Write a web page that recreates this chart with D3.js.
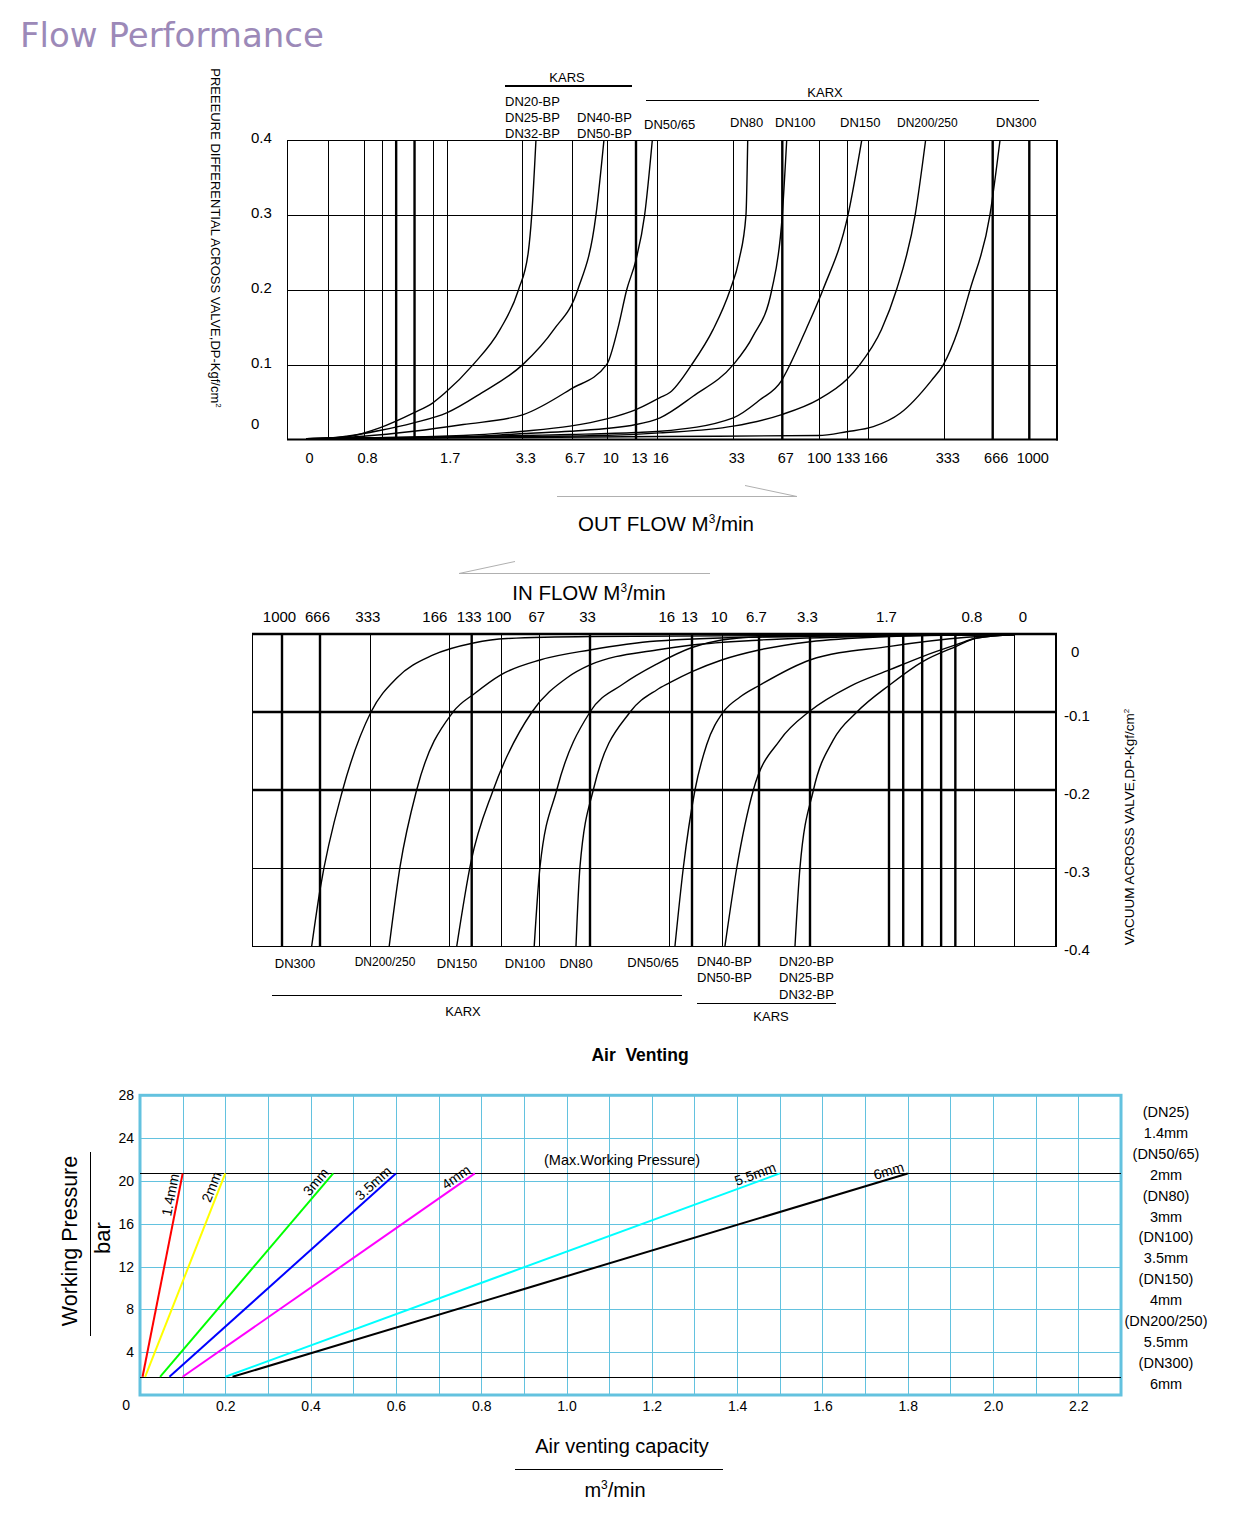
<!DOCTYPE html>
<html>
<head>
<meta charset="utf-8">
<title>Flow Performance</title>
<script src="https://cdn.jsdelivr.net/npm/d3@7"></script>
<style>
  body { margin: 0; background: #fff; }
  text { font-family: "Liberation Sans", Arial, sans-serif; fill: #000; }
</style>
</head>
<body>
<script>
// ---------- OUT FLOW chart data (flow m3/min, dp kgf/cm2) ----------
var outFlowTicks = [0, 0.8, 1.7, 3.3, 6.7, 10, 13, 16, 33, 67, 100, 133, 166, 333, 666, 1000];
var outFlowGrid = [0.3, 0.8, 1.0, 1.15, 1.35, 1.55, 1.7, 3.3, 6.7, 10, 13, 16, 33, 67, 100, 133, 166, 333, 666, 1000];
var outFlowHeavy = [1.15, 1.35, 13, 67, 666, 1000];
var outDpTicks = [0, 0.1, 0.2, 0.3, 0.4];

var outKars20 = [[0, 0.001], [0.33, 0.002], [0.61, 0.0044], [0.97, 0.0156], [1.34, 0.0356], [1.55, 0.049], [1.68, 0.062], [2.26, 0.1], [2.83, 0.147], [3.22, 0.2], [3.71, 0.25], [3.95, 0.3], [4.24, 0.4]];
var outKars40 = [[0, 0.001], [0.33, 0.002], [0.56, 0.0044], [0.97, 0.012], [1.34, 0.0223], [1.7, 0.0356], [2.44, 0.0623], [3.33, 0.1], [5.48, 0.147], [7.26, 0.2], [8.95, 0.3], [9.69, 0.4]];
var outDN50 = [[0, 0.001], [0.79, 0.0044], [1.34, 0.011], [2.05, 0.02], [3.37, 0.0333], [6.58, 0.0667], [9.94, 0.1], [11.12, 0.149], [12.03, 0.2], [13, 0.24], [14.22, 0.3], [15.3, 0.4]];
var outDN80 = [[0, 0.001], [2.05, 0.0053], [3.35, 0.011], [6.58, 0.0178], [9.94, 0.0276], [13, 0.04], [16.6, 0.056], [18.8, 0.0627], [23.7, 0.1], [28.5, 0.147], [32.3, 0.2], [37, 0.24], [41.8, 0.3], [43, 0.4]];
var outDN100 = [[0, 0.001], [2.05, 0.0033], [3.35, 0.008], [6.58, 0.011], [13, 0.02], [16.6, 0.029], [24, 0.0578], [33, 0.1], [46.7, 0.138], [59.7, 0.2], [67, 0.3], [71, 0.4]];
var outDN150 = [[0, 0.001], [3.35, 0.0053], [6.58, 0.0067], [13, 0.0093], [16.6, 0.011], [33, 0.029], [51.5, 0.053], [66.6, 0.079], [74, 0.1], [88.5, 0.147], [105, 0.2], [135, 0.3], [156, 0.4]];
var outDN200 = [[0, 0.001], [3.35, 0.004], [9.3, 0.0053], [16.6, 0.0089], [33, 0.0178], [66.6, 0.0333], [99.6, 0.0533], [133, 0.08], [153, 0.1], [195, 0.147], [228, 0.2], [269, 0.3], [292, 0.4]];
var outDN300 = [[0, 0.001], [3.35, 0.0027], [16.6, 0.004], [99.6, 0.0053], [133, 0.0104], [177, 0.0171], [236, 0.035], [305, 0.079], [331, 0.1], [429, 0.147], [510, 0.2], [647, 0.3], [733, 0.4]];

// ---------- IN FLOW chart data ----------
var inFlowTicks = [1000, 666, 333, 166, 133, 100, 67, 33, 16, 13, 10, 6.7, 3.3, 1.7, 0.8, 0];
var inFlowGrid = [1000, 666, 333, 166, 133, 100, 67, 33, 16, 13, 10, 6.7, 3.3, 1.7, 1.55, 1.35, 1.15, 1.0, 0.8, 0];
var inFlowHeavy = [1000, 666, 133, 33, 13, 6.7, 3.3, 1.7, 1.55, 1.35, 1.15, 1.0];
var inDpTicks = [0, -0.1, -0.2, -0.3, -0.4];
var inDpHeavy = [-0.1, -0.2];

var inDN300 = [[739, -0.4], [666, -0.328], [516, -0.2], [331.5, -0.1], [277, -0.0564], [200, -0.0269], [131, -0.0115], [95, -0.0058], [33, -0.0032], [4, -0.0019], [0, -0.0006]];
var inDN200 = [[293, -0.4], [270, -0.298], [235, -0.2], [160.5, -0.1], [129, -0.0756], [101, -0.0526], [66.5, -0.0333], [33, -0.0205], [18.7, -0.009], [6.6, -0.0038], [0, -0.0006]];
var inDN150 = [[155, -0.4], [134.5, -0.294], [109, -0.2], [73.4, -0.1], [48.6, -0.0564], [33, -0.0397], [18.7, -0.0205], [13, -0.0141], [6.6, -0.0077], [1.69, -0.0026], [0, -0.0006]];
var inDN100 = [[71.4, -0.4], [66.5, -0.298], [55.3, -0.2], [33, -0.1], [25.9, -0.0641], [18.7, -0.0385], [13, -0.0173], [10, -0.0077], [6.7, -0.0038], [1.69, -0.0019], [0, -0.0006]];
var inDN80 = [[42.4, -0.4], [39.7, -0.298], [32.3, -0.2], [24.4, -0.1], [18.7, -0.0718], [16, -0.0628], [13, -0.0483], [10, -0.0333], [6.7, -0.0205], [3.3, -0.0099], [1.7, -0.0032], [0.98, -0.001], [0, -0.0006]];
var inDN50 = [[15.25, -0.4], [14.15, -0.3], [12.7, -0.2], [11.52, -0.142], [9.86, -0.1], [8.38, -0.0808], [6.63, -0.0654], [3.3, -0.0333], [1.69, -0.0158], [0.88, -0.0042], [0, -0.0006]];
var inKars40 = [[9.71, -0.4], [8.67, -0.3], [7.2, -0.2], [5.3, -0.136], [3.3, -0.0987], [2.49, -0.067], [1.69, -0.0458], [1.34, -0.0286], [0.99, -0.0137], [0.75, -0.0051], [0, -0.0006]];
var inKars20 = [[4.3, -0.4], [3.97, -0.3], [3.23, -0.2], [2.83, -0.136], [2.35, -0.1], [1.69, -0.065], [1.34, -0.035], [0.99, -0.0158], [0.75, -0.0051], [0, -0.0006]];

// ---------- Air venting data ----------
var ventOrifices = ["1.4mm", "2mm", "3mm", "3.5mm", "4mm", "5.5mm", "6mm"];
var ventStartFlow = [0.006, 0.012, 0.047, 0.069, 0.1, 0.2, 0.217];
var ventEndFlow = [0.1, 0.2, 0.453, 0.6, 0.785, 1.5, 1.8];
var ventMinPressure = 1.7;
var ventMaxPressure = 20.7;
var ventFlowTicks = [0.2, 0.4, 0.6, 0.8, 1.0, 1.2, 1.4, 1.6, 1.8, 2.0, 2.2];
var ventFlowGrid = [0.1, 0.2, 0.3, 0.4, 0.5, 0.6, 0.7, 0.8, 0.9, 1.0, 1.1, 1.2, 1.3, 1.4, 1.5, 1.6, 1.7, 1.8, 1.9, 2.0, 2.1, 2.2];
var ventPressureTicks = [0, 4, 8, 12, 16, 20, 24, 28];
var ventLegend = ["(DN25)", "1.4mm", "(DN50/65)", "2mm", "(DN80)", "3mm", "(DN100)", "3.5mm", "(DN150)", "4mm", "(DN200/250)", "5.5mm", "(DN300)", "6mm"];

// ---------- layout ----------
var outFlowTickX = [306, 364, 446.7, 522.3, 571.7, 607.3, 636, 657.3, 733.3, 782.3, 818.7, 846.7, 868.3, 944.3, 992.7, 1029.3];
var inFlowTickX = [282, 320, 370.3, 449.3, 471.7, 501.3, 539.3, 590, 669.3, 692, 721.7, 759, 810, 889, 974.3, 1014.3];
var outLabelNudge = {166: 4, 133: -2, 100: -3};
var inLabelNudge = {166: -12, 0: 11};
var ventColors = ["#ff0000", "#ffff00", "#00ff00", "#0000ff", "#ff00ff", "#00ffff", "#000000"];
var gridBlue = "#63c2df";

var svg = d3.select("body").append("svg")
    .attr("width", 1239)
    .attr("height", 1520)
    .style("display", "block");

function px(v) { return Math.round(v) + 0.5; }

function seg(g, x1, y1, x2, y2, w, color) {
    return g.append("line")
        .attr("x1", x1).attr("y1", y1).attr("x2", x2).attr("y2", y2)
        .attr("stroke", color || "#000")
        .attr("stroke-width", w || 1);
}

function label(g, x, y, str, size, anchor) {
    return g.append("text")
        .attr("x", x).attr("y", y).attr("dy", "0.35em")
        .attr("font-size", size)
        .attr("text-anchor", anchor || "middle")
        .text(str);
}

function caption(x, y, before, sup, after, size) {
    var t = svg.append("text").attr("x", x).attr("y", y).attr("text-anchor", "middle").attr("font-size", size);
    t.append("tspan").text(before);
    t.append("tspan").attr("font-size", size * 0.58).attr("dy", -size * 0.4).text(sup);
    t.append("tspan").attr("dy", size * 0.4).text(after);
    return t;
}

svg.append("text")
    .attr("x", 20).attr("y", 47)
    .style("font-family", "'DejaVu Sans', Verdana, sans-serif")
    .attr("font-size", 34)
    .style("fill", "#9c89b8")
    .text("Flow Performance");

// ================= OUT FLOW chart =================
var oF = {left: 287, right: 1057, top: 140, bottom: 439.5};
var outX = d3.scaleLinear().domain(outFlowTicks).range(outFlowTickX);
var outY = d3.scaleLinear().domain([0, 0.4]).range([oF.bottom, oF.top]);
var outG = svg.append("g");

outG.selectAll("line.vg").data(outFlowGrid).enter().append("line")
    .attr("class", "vg")
    .attr("x1", function(d) { return outFlowHeavy.indexOf(d) >= 0 ? outX(d) : px(outX(d)); })
    .attr("x2", function(d) { return outFlowHeavy.indexOf(d) >= 0 ? outX(d) : px(outX(d)); })
    .attr("y1", oF.top).attr("y2", oF.bottom)
    .attr("stroke", "#000")
    .attr("stroke-width", function(d) { return outFlowHeavy.indexOf(d) >= 0 ? 2.4 : 1; });

outG.selectAll("line.hg").data([0.1, 0.2, 0.3]).enter().append("line")
    .attr("class", "hg")
    .attr("x1", oF.left).attr("x2", oF.right)
    .attr("y1", function(d) { return px(outY(d)); })
    .attr("y2", function(d) { return px(outY(d)); })
    .attr("stroke", "#000").attr("stroke-width", 1);

seg(outG, oF.left, oF.top + 0.5, oF.right, oF.top + 0.5, 1);
seg(outG, oF.left + 0.5, oF.top, oF.left + 0.5, oF.bottom, 1);
seg(outG, oF.right, oF.top, oF.right, oF.bottom + 1, 2);
seg(outG, oF.left, oF.bottom, oF.right + 1, oF.bottom, 2);

var outLine = d3.line()
    .x(function(d) { return outX(d[0]); })
    .y(function(d) { return outY(d[1]); })
    .curve(d3.curveMonotoneX);

outG.selectAll("path.curve")
    .data([outKars20, outKars40, outDN50, outDN80, outDN100, outDN150, outDN200, outDN300])
    .enter().append("path")
    .attr("class", "curve")
    .attr("d", outLine)
    .attr("fill", "none")
    .attr("stroke", "#000")
    .attr("stroke-width", 1.4);

outG.append("g")
    .attr("transform", "translate(0," + oF.bottom + ")")
    .call(d3.axisBottom(outX).tickValues(outFlowTicks).tickSize(0).tickPadding(13.5)
        .tickFormat(function(d) { return String(d); }))
    .attr("font-size", 14.5)
    .attr("font-family", null)
    .call(function(g) { g.select(".domain").remove(); })
    .selectAll("text").attr("dx", function(d) { return 3 + (outLabelNudge[d] || 0); });

outDpTicks.forEach(function(v) {
    var y = Math.min(Math.max(outY(v) - 2, oF.top - 5), oF.bottom - 16);
    label(outG, 251, y, String(v), 15, "start");
});

var outTitle = outG.append("text")
    .attr("transform", "translate(211,238) rotate(90)")
    .attr("text-anchor", "middle")
    .attr("font-size", 13);
outTitle.append("tspan").text("PREEEURE DIFFERENTIAL ACROSS VALVE,DP-Kgf/cm");
outTitle.append("tspan").attr("font-size", 8).attr("dy", -5).text("2");

label(outG, 567, 77, "KARS", 13);
seg(outG, 505, 86, 632, 86, 2);
label(outG, 825, 92, "KARX", 13);
seg(outG, 646, 100.5, 1039, 100.5, 1);

var outNames = [
    {t: "DN20-BP", x: 505, y: 101, s: 13},
    {t: "DN25-BP", x: 505, y: 117, s: 13},
    {t: "DN32-BP", x: 505, y: 133, s: 13},
    {t: "DN40-BP", x: 577, y: 117, s: 13},
    {t: "DN50-BP", x: 577, y: 133, s: 13},
    {t: "DN50/65", x: 644, y: 124, s: 13},
    {t: "DN80", x: 730, y: 122, s: 13},
    {t: "DN100", x: 775, y: 122, s: 13},
    {t: "DN150", x: 840, y: 122, s: 13},
    {t: "DN200/250", x: 897, y: 123, s: 12},
    {t: "DN300", x: 996, y: 122, s: 13}
];
outNames.forEach(function(n) { label(outG, n.x, n.y, n.t, n.s, "start"); });

// OUT FLOW caption
seg(svg, 557, 496.5, 797, 496.5, 1, "#b0b0b0");
seg(svg, 745, 485.5, 797, 496.5, 1, "#b0b0b0");
caption(666, 531, "OUT FLOW M", "3", "/min", 20.5);

// ================= IN FLOW chart =================
var iF = {left: 252, right: 1056, top: 634, bottom: 946};
var inX = d3.scaleLinear().domain(inFlowTicks).range(inFlowTickX);
var inY = d3.scaleLinear().domain([0, -0.4]).range([iF.top, iF.bottom]);
var inG = svg.append("g");

seg(svg, 459, 573.5, 710, 573.5, 1, "#b0b0b0");
seg(svg, 459, 573.5, 515, 561.5, 1, "#b0b0b0");
caption(589, 600, "IN FLOW M", "3", "/min", 20.5);

inG.selectAll("line.vg").data(inFlowGrid).enter().append("line")
    .attr("class", "vg")
    .attr("x1", function(d) { return inFlowHeavy.indexOf(d) >= 0 ? inX(d) : px(inX(d)); })
    .attr("x2", function(d) { return inFlowHeavy.indexOf(d) >= 0 ? inX(d) : px(inX(d)); })
    .attr("y1", iF.top).attr("y2", iF.bottom)
    .attr("stroke", "#000")
    .attr("stroke-width", function(d) { return inFlowHeavy.indexOf(d) >= 0 ? 2.4 : 1; });

inG.selectAll("line.hg").data([-0.1, -0.2, -0.3]).enter().append("line")
    .attr("class", "hg")
    .attr("x1", iF.left).attr("x2", iF.right)
    .attr("y1", function(d) { return inDpHeavy.indexOf(d) >= 0 ? inY(d) : px(inY(d)); })
    .attr("y2", function(d) { return inDpHeavy.indexOf(d) >= 0 ? inY(d) : px(inY(d)); })
    .attr("stroke", "#000")
    .attr("stroke-width", function(d) { return inDpHeavy.indexOf(d) >= 0 ? 2.4 : 1; });

seg(inG, iF.left, iF.top, iF.right + 1, iF.top, 2.4);
seg(inG, iF.left + 0.5, iF.top, iF.left + 0.5, iF.bottom, 1);
seg(inG, iF.right, iF.top, iF.right, iF.bottom, 2);
seg(inG, iF.left, iF.bottom + 0.5, iF.right + 1, iF.bottom + 0.5, 1);

var inLine = d3.line()
    .x(function(d) { return inX(d[0]); })
    .y(function(d) { return inY(d[1]); })
    .curve(d3.curveMonotoneX);

inG.selectAll("path.curve")
    .data([inDN300, inDN200, inDN150, inDN100, inDN80, inDN50, inKars40, inKars20])
    .enter().append("path")
    .attr("class", "curve")
    .attr("d", function(d) { return inLine(d.slice().sort(function(a, b) { return b[0] - a[0]; })); })
    .attr("fill", "none")
    .attr("stroke", "#000")
    .attr("stroke-width", 1.4);

inG.append("g")
    .attr("transform", "translate(0," + iF.top + ")")
    .call(d3.axisTop(inX).tickValues(inFlowTicks).tickSize(0).tickPadding(12)
        .tickFormat(function(d) { return String(d); }))
    .attr("font-size", 15)
    .attr("font-family", null)
    .call(function(g) { g.select(".domain").remove(); })
    .selectAll("text").attr("dx", function(d) { return -3 + (inLabelNudge[d] || 0); });

inDpTicks.forEach(function(v) {
    var y = Math.min(Math.max(inY(v) + 4, iF.top + 18), iF.bottom + 6);
    label(inG, v === 0 ? 1071 : 1064, y, String(v), 15, "start");
});

var inTitle = inG.append("text")
    .attr("transform", "translate(1134,827) rotate(-90)")
    .attr("text-anchor", "middle")
    .attr("font-size", 13.5);
inTitle.append("tspan").text("VACUUM ACROSS VALVE,DP-Kgf/cm");
inTitle.append("tspan").attr("font-size", 8).attr("dy", -5).text("2");

var inNames = [
    {t: "DN300", x: 295, y: 963, s: 13, a: "middle"},
    {t: "DN200/250", x: 385, y: 962, s: 12, a: "middle"},
    {t: "DN150", x: 457, y: 963, s: 13, a: "middle"},
    {t: "DN100", x: 525, y: 963, s: 13, a: "middle"},
    {t: "DN80", x: 576, y: 963, s: 13, a: "middle"},
    {t: "DN50/65", x: 653, y: 962, s: 13, a: "middle"},
    {t: "DN40-BP", x: 697, y: 961, s: 13, a: "start"},
    {t: "DN50-BP", x: 697, y: 977.5, s: 13, a: "start"},
    {t: "DN20-BP", x: 779, y: 961, s: 13, a: "start"},
    {t: "DN25-BP", x: 779, y: 977.5, s: 13, a: "start"},
    {t: "DN32-BP", x: 779, y: 994, s: 13, a: "start"}
];
inNames.forEach(function(n) { label(inG, n.x, n.y, n.t, n.s, n.a); });
seg(inG, 272, 995.5, 682, 995.5, 1);
label(inG, 463, 1011, "KARX", 13);
seg(inG, 697, 1003.5, 836, 1003.5, 1);
label(inG, 771, 1016, "KARS", 13);

// ================= Air venting chart =================
label(svg, 640, 1055, "Air  Venting", 17.5).attr("font-weight", "bold").style("white-space", "pre");

var vF = {left: 140, right: 1121, top: 1095.3, bottom: 1395};
var ventX = d3.scaleLinear().domain([0, 2.3]).range([vF.left, vF.right]);
var ventY = d3.scaleLinear().domain([0, 28]).range([vF.bottom, vF.top]);
var vG = svg.append("g");

vG.selectAll("line.vx").data(ventFlowGrid).enter().append("line")
    .attr("x1", function(d) { return px(ventX(d)); })
    .attr("x2", function(d) { return px(ventX(d)); })
    .attr("y1", vF.top).attr("y2", vF.bottom)
    .attr("stroke", gridBlue).attr("stroke-width", 1);

vG.selectAll("line.vy").data(ventPressureTicks.slice(1, -1)).enter().append("line")
    .attr("x1", vF.left).attr("x2", vF.right)
    .attr("y1", function(d) { return px(ventY(d)); })
    .attr("y2", function(d) { return px(ventY(d)); })
    .attr("stroke", gridBlue).attr("stroke-width", 1);

vG.append("rect")
    .attr("x", vF.left).attr("y", vF.top)
    .attr("width", vF.right - vF.left).attr("height", vF.bottom - vF.top)
    .attr("fill", "none").attr("stroke", gridBlue).attr("stroke-width", 3);

[ventMinPressure, ventMaxPressure].forEach(function(p) {
    seg(vG, vF.left, px(ventY(p)), vF.right, px(ventY(p)), 1);
});
label(vG, 622, 1160, "(Max.Working Pressure)", 14.5);

ventOrifices.forEach(function(name, i) {
    vG.append("line")
        .attr("x1", ventX(ventStartFlow[i])).attr("y1", ventY(ventMinPressure))
        .attr("x2", ventX(ventEndFlow[i])).attr("y2", ventY(ventMaxPressure))
        .attr("stroke", ventColors[i]).attr("stroke-width", 2);
});

ventOrifices.forEach(function(name, i) {
    var x0 = ventX(ventStartFlow[i]), y0 = ventY(ventMinPressure);
    var x1 = ventX(ventEndFlow[i]), y1 = ventY(ventMaxPressure);
    var len = Math.sqrt((x1 - x0) * (x1 - x0) + (y1 - y0) * (y1 - y0));
    var ux = (x1 - x0) / len, uy = (y1 - y0) / len;
    var ang = Math.atan2(uy, ux) * 180 / Math.PI;
    var t = vG.append("text")
        .attr("text-anchor", "middle")
        .attr("font-size", 14)
        .attr("y", -3)
        .text(name);
    var L = t.node().getComputedTextLength();
    var cx = x1 - ux * (L / 2 + 2), cy = y1 - uy * (L / 2 + 2);
    t.attr("transform", "translate(" + cx + "," + cy + ") rotate(" + ang + ")");
});

vG.append("g")
    .attr("transform", "translate(0," + vF.bottom + ")")
    .call(d3.axisBottom(ventX).tickValues(ventFlowTicks).tickSize(0).tickPadding(6)
        .tickFormat(d3.format(".1f")))
    .attr("font-size", 14)
    .attr("font-family", null)
    .call(function(g) { g.select(".domain").remove(); });

vG.append("g")
    .attr("transform", "translate(" + vF.left + ",0)")
    .call(d3.axisLeft(ventY).tickValues(ventPressureTicks).tickSize(0).tickPadding(6))
    .attr("font-size", 14)
    .attr("font-family", null)
    .call(function(g) { g.select(".domain").remove(); })
    .selectAll("text")
    .filter(function(d) { return d === 0; })
    .attr("dx", -4).attr("dy", "1.05em");

ventLegend.forEach(function(s, i) {
    label(vG, 1166, 1112 + i * 20.9, s, 14.5);
});

vG.append("text")
    .attr("transform", "translate(69,1241) rotate(-90)")
    .attr("text-anchor", "middle").attr("dy", "0.35em")
    .attr("font-size", 21.5)
    .text("Working Pressure");
seg(vG, 90.5, 1152, 90.5, 1336, 1);
vG.append("text")
    .attr("transform", "translate(102,1238) rotate(-90)")
    .attr("text-anchor", "middle").attr("dy", "0.35em")
    .attr("font-size", 22)
    .text("bar");

label(vG, 622, 1446, "Air venting capacity", 20);
seg(vG, 515, 1469.5, 723, 1469.5, 1);
var unit = vG.append("text").attr("x", 615).attr("y", 1497).attr("text-anchor", "middle").attr("font-size", 20);
unit.append("tspan").text("m");
unit.append("tspan").attr("font-size", 12).attr("dy", -8).text("3");
unit.append("tspan").attr("dy", 8).text("/min");
</script>
</body>
</html>
